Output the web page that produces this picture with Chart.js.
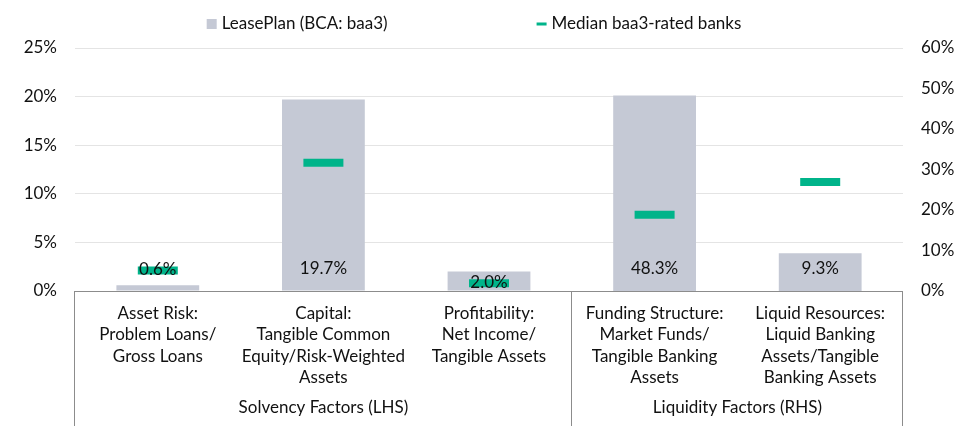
<!DOCTYPE html>
<html><head><meta charset="utf-8">
<script src="https://cdn.jsdelivr.net/npm/chart.js@4/dist/chart.umd.min.js"></script>
<style>html,body{margin:0;padding:0;background:#fff}#wrap{width:956px;height:426px}</style>
</head><body><div id="wrap"><canvas id="c" width="956" height="426"></canvas></div>
<script>
const categories = [
  ["Asset Risk:", "Problem Loans/", "Gross Loans"],
  ["Capital:", "Tangible Common", "Equity/Risk-Weighted", "Assets"],
  ["Profitability:", "Net Income/", "Tangible Assets"],
  ["Funding Structure:", "Market Funds/", "Tangible Banking", "Assets"],
  ["Liquid Resources:", "Liquid Banking", "Assets/Tangible", "Banking Assets"]
];
const groupLabels = ["Solvency Factors (LHS)", "Liquidity Factors (RHS)"];
const groupSizes = [3, 2];
const seriesNames = ["LeasePlan (BCA: baa3)", "Median baa3-rated banks"];
const leasePlanLHS = [0.6, 19.7, 2.0, null, null];
const leasePlanRHS = [null, null, null, 48.3, 9.3];
const medianLHS = [2.1, 13.2, 0.8, null, null];
const medianRHS = [null, null, null, 18.8, 26.9];
const leftAxis = [0, 25, 5];
const rightAxis = [0, 60, 10];

const FONT = "Lato";
const FS = 17;
const BAR = "#c5c9d5";
const GREEN = "#00b48a";
const AXIS = "#8c8c8c";

const labelPlugin = {
  id: "valueLabels",
  afterDatasetsDraw(chart) {
    const ctx = chart.ctx;
    ctx.save();
    ctx.font = FS + "px " + FONT;
    ctx.fillStyle = "#111";
    ctx.textAlign = "center";
    ctx.textBaseline = "middle";
    [0, 1].forEach(di => {
      const meta = chart.getDatasetMeta(di);
      const data = chart.data.datasets[di].data;
      meta.data.forEach((el, i) => {
        const v = data[i];
        if (v === null || v === undefined) return;
        const h = el.base - el.y;
        let ty;
        if (h >= 30) ty = el.base - 22;
        else if (h >= 16) ty = (el.y + el.base) / 2 + 1;
        else ty = el.y - 16;
        ctx.fillText(v.toFixed(1) + "%", el.x, ty);
      });
    });
    ctx.restore();
  }
};

const framePlugin = {
  id: "frame",
  afterDraw(chart) {
    const ctx = chart.ctx, a = chart.chartArea, xs = chart.scales.x;
    ctx.save();
    ctx.strokeStyle = AXIS;
    ctx.lineWidth = 1;
    ctx.beginPath();
    ctx.moveTo(a.left, Math.round(a.bottom) + 0.5);
    ctx.lineTo(a.right, Math.round(a.bottom) + 0.5);
    const bounds = [a.left];
    let idx = 0;
    const centers = [];
    groupSizes.forEach(n => {
      const first = xs.getPixelForValue(idx), last = xs.getPixelForValue(idx + n - 1);
      centers.push((first + last) / 2);
      idx += n;
      if (idx < categories.length) bounds.push((xs.getPixelForValue(idx - 1) + xs.getPixelForValue(idx)) / 2);
    });
    bounds.push(a.right);
    bounds.forEach(bx => {
      const px = Math.round(bx) - 0.5;
      ctx.moveTo(px, a.bottom);
      ctx.lineTo(px, chart.height);
    });
    ctx.stroke();
    ctx.font = FS + "px " + FONT;
    ctx.fillStyle = "#111";
    ctx.textAlign = "center";
    ctx.textBaseline = "middle";
    groupLabels.forEach((g, i) => ctx.fillText(g, centers[i], 408));

    // legend
    const t1 = ctx.measureText(seriesNames[0]).width;
    const t2 = ctx.measureText(seriesNames[1]).width;
    const gap = 149;
    const total = 15 + t1 + gap + 15 + t2;
    let x = chart.width / 2 - total / 2 - 4;
    const ly = 24;
    ctx.fillStyle = BAR;
    ctx.fillRect(x, ly - 5, 10, 10);
    ctx.fillStyle = "#111";
    ctx.textAlign = "left";
    ctx.fillText(seriesNames[0], x + 15, ly);
    x += 15 + t1 + gap;
    ctx.fillStyle = GREEN;
    ctx.fillRect(x, ly - 1.5, 10, 3);
    ctx.fillStyle = "#111";
    ctx.fillText(seriesNames[1], x + 15, ly);
    ctx.restore();
  }
};

new Chart(document.getElementById("c"), {
  type: "bar",
  data: {
    labels: categories,
    datasets: [
      { label: seriesNames[0], data: leasePlanLHS, yAxisID: "y", backgroundColor: BAR, grouped: false, categoryPercentage: 1, barPercentage: 0.5, order: 2 },
      { label: seriesNames[0], data: leasePlanRHS, yAxisID: "y1", backgroundColor: BAR, grouped: false, categoryPercentage: 1, barPercentage: 0.5, order: 2 },
      { type: "line", label: seriesNames[1], data: medianLHS, yAxisID: "y", showLine: false, pointStyle: "line", pointRadius: 20, pointHoverRadius: 20, pointBorderWidth: 8, pointHoverBorderWidth: 8, borderColor: GREEN, backgroundColor: GREEN, order: 1 },
      { type: "line", label: seriesNames[1], data: medianRHS, yAxisID: "y1", showLine: false, pointStyle: "line", pointRadius: 20, pointHoverRadius: 20, pointBorderWidth: 8, pointHoverBorderWidth: 8, borderColor: GREEN, backgroundColor: GREEN, order: 1 }
    ]
  },
  options: {
    responsive: false,
    animation: false,
    devicePixelRatio: 1,
    layout: { padding: { top: 48, left: 0, right: 0, bottom: 0 } },
    plugins: { legend: { display: false }, tooltip: { enabled: false } },
    scales: {
      x: {
        offset: true,
        grid: { display: false, drawTicks: false },
        border: { display: false },
        ticks: { maxRotation: 0, minRotation: 0, autoSkip: false, padding: 12, color: "#111", font: { family: FONT, size: FS, lineHeight: 1.25 } },
        afterFit(s) { s.height = 135; }
      },
      y: {
        position: "left",
        min: leftAxis[0], max: leftAxis[1],
        ticks: { stepSize: leftAxis[2], padding: 18, color: "#111", font: { family: FONT, size: FS }, callback: v => v + "%" },
        grid: { color: "#e4e4e4", drawTicks: false },
        border: { display: false },
        afterFit(s) { s.width = 75; }
      },
      y1: {
        position: "right",
        min: rightAxis[0], max: rightAxis[1],
        ticks: { stepSize: rightAxis[2], padding: 18, color: "#111", font: { family: FONT, size: FS }, callback: v => v + "%" },
        grid: { display: false, drawTicks: false },
        border: { display: false },
        afterFit(s) { s.width = 53; }
      }
    }
  },
  plugins: [labelPlugin, framePlugin]
});
</script>
</body></html>
